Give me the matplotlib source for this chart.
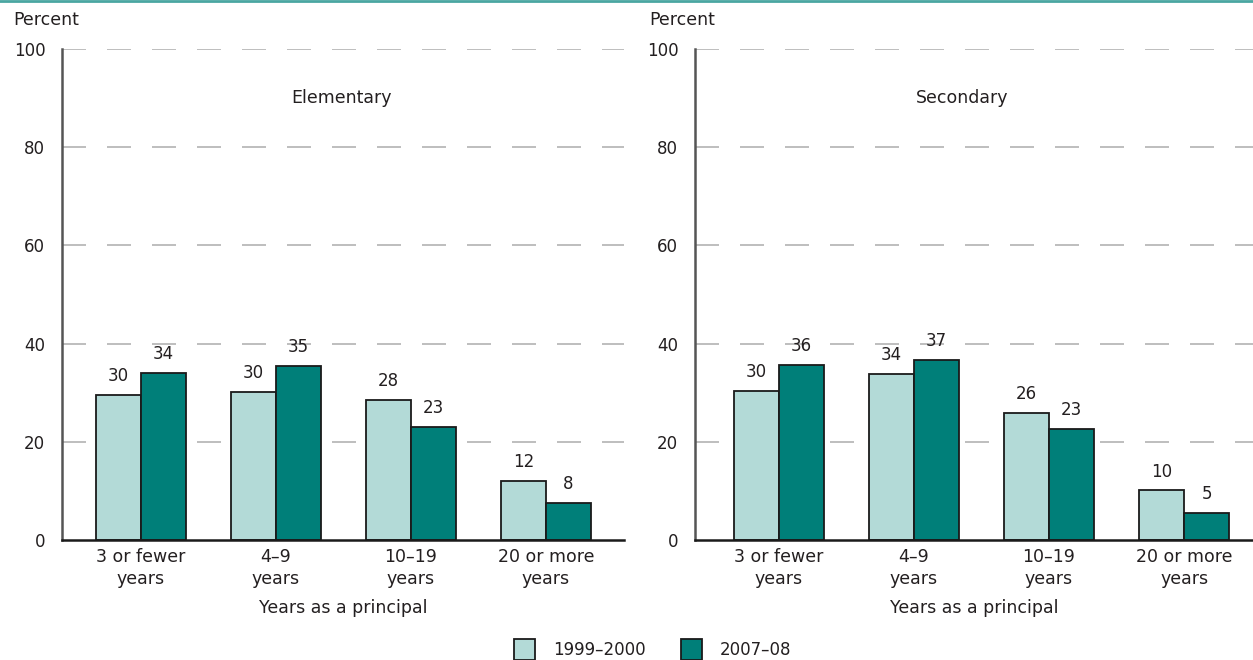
import matplotlib
matplotlib.use("Agg")
import matplotlib.pyplot as plt
import numpy as np
from matplotlib.lines import Line2D
from matplotlib.patches import Patch

categories = ["3 or fewer\nyears", "4\u20139\nyears", "10\u201319\nyears", "20 or more\nyears"]
series_names = ["1999\u20132000", "2007\u201308"]
elem_1999 = [29.5, 30.1, 28.5, 12.0]
elem_2007 = [34.1, 35.4, 23.0, 7.5]
sec_1999 = [30.4, 33.9, 25.9, 10.1]
sec_2007 = [35.7, 36.7, 22.6, 5.5]
elem_labels_1999 = [30, 30, 28, 12]
elem_labels_2007 = [34, 35, 23, 8]
sec_labels_1999 = [30, 34, 26, 10]
sec_labels_2007 = [36, 37, 23, 5]
panel_titles = ["Elementary", "Secondary"]
yticks = [0, 20, 40, 60, 80, 100]

LIGHT = "#b3dad7"
DARK = "#007f79"
TEXT = "#231f20"
plt.rcParams['font.family'] = ['DejaVu Sans']

fig = plt.figure(figsize=(12.53, 6.6), dpi=100)
W, H = 1253, 660
ax1 = fig.add_axes([62 / W, (H - 540) / H, 562 / W, 491 / H])
ax2 = fig.add_axes([695 / W, (H - 540) / H, 558 / W, 491 / H])

panels = [
    (ax1, elem_1999, elem_2007, elem_labels_1999, elem_labels_2007, panel_titles[0], (-0.585, 3.578), 0.498),
    (ax2, sec_1999, sec_2007, sec_labels_1999, sec_labels_2007, panel_titles[1], (-0.62, 3.51), 0.478),
]
bw = 0.333
x = np.arange(len(categories))
for ax, a, b, la, lb, title, xl, tx in panels:
    ax.set_xlim(*xl)
    ax.set_ylim(0, 100)
    for yv in yticks[1:]:
        ax.axhline(yv, color="#b3b3b3", lw=1.2, dashes=(14.4, 12.6), zorder=0)
    bars1 = ax.bar(x - bw / 2, a, bw, color=LIGHT, edgecolor="#1a1a1a", lw=1.3, zorder=2)
    bars2 = ax.bar(x + bw / 2, b, bw, color=DARK, edgecolor="#1a1a1a", lw=1.3, zorder=2)
    for bars, labs in ((bars1, la), (bars2, lb)):
        for r, l in zip(bars, labs):
            ax.annotate(str(l), (r.get_x() + r.get_width() / 2, r.get_height()),
                        xytext=(0, 7), textcoords="offset points",
                        ha="center", va="bottom", fontsize=12, color=TEXT)
    ax.set_yticks(yticks)
    ax.set_yticklabels([str(v) for v in yticks], fontsize=12, color=TEXT)
    ax.set_xticks(x)
    ax.set_xticklabels(categories, fontsize=12.5, color=TEXT, linespacing=1.25)
    ax.tick_params(axis="x", length=0, pad=6)
    ax.tick_params(axis="y", length=0, pad=12)
    for s in ["top", "right"]:
        ax.spines[s].set_visible(False)
    ax.spines["left"].set_color("#555555")
    ax.spines["left"].set_linewidth(1.8)
    ax.spines["bottom"].set_color("#1a1a1a")
    ax.spines["bottom"].set_linewidth(1.8)
    ax.set_xlabel("Years as a principal", fontsize=12.5, color=TEXT, labelpad=8)
    ax.text(tx, 90, title, transform=ax.get_yaxis_transform(), ha="center", va="center",
            fontsize=12.5, color=TEXT)
    ax.text(-0.087 if ax is ax1 else -0.082, 1.06, "Percent", transform=ax.transAxes,
            ha="left", va="center", fontsize=12.5, color=TEXT)

fig.add_artist(Line2D([0, 1], [0.999, 0.999], transform=fig.transFigure,
                      color="#4aa6a1", lw=2))

handles = [Patch(facecolor=LIGHT, edgecolor="#1a1a1a", lw=1.3),
           Patch(facecolor=DARK, edgecolor="#1a1a1a", lw=1.3)]
fig.legend(handles, series_names, loc="center", bbox_to_anchor=(0.521, 0.016),
           ncol=2, frameon=False, fontsize=12, handlelength=1.26, handleheight=1.5,
           columnspacing=2.1, handletextpad=1.1, labelcolor=TEXT, borderpad=0.2)

fig.savefig("out.png", dpi=100)
